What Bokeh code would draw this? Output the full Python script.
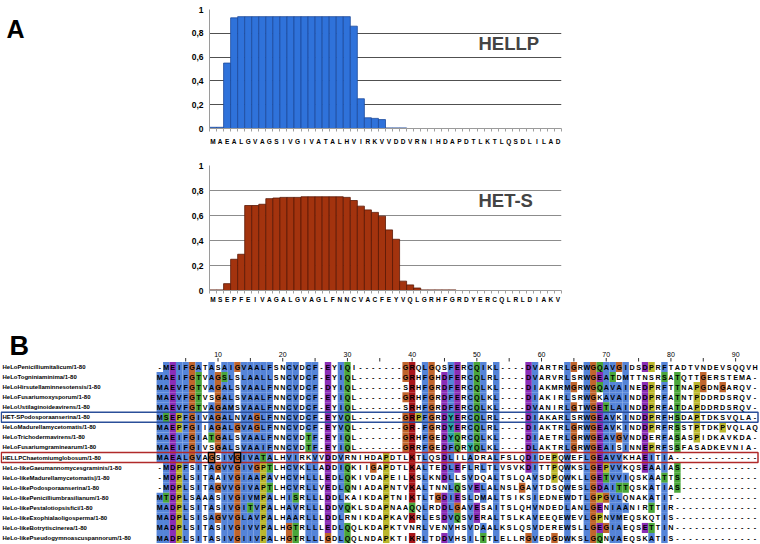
from collections import Counter

from bokeh.plotting import figure
from bokeh.layouts import column, row
from bokeh.models import Range1d, FixedTicker, Label
from bokeh.core.properties import value
from bokeh.embed import file_html
from bokeh.resources import INLINE

FONT = "Liberation Sans"
NARROW = "Liberation Sans Narrow, Liberation Sans"

# ---------------- Panel A data ----------------
HELLP_RESIDUES = list("MAEALGVAGSIVGIVATALHVIRKVVDDVRNIHDAPDTLKTLQSDLILAD")
HELLP_PROB = [0.01, 0.01, 0.55, 0.93, 0.94, 0.94, 0.94, 0.94, 0.94, 0.94,
              0.94, 0.94, 0.94, 0.94, 0.94, 0.94, 0.94, 0.94, 0.94, 0.94,
              0.86, 0.25, 0.09, 0.085, 0.075, 0.005, 0.005, 0.005, 0, 0,
              0, 0, 0, 0, 0, 0, 0, 0, 0, 0,
              0, 0, 0, 0, 0, 0, 0, 0, 0, 0]
HETS_RESIDUES = list("MSEPFEIVAGALGVAGLFNNCVACFEYVQLGRHFGRDYERCQLRLDIAKV")
HETS_PROB = [0.005, 0.005, 0.055, 0.25, 0.29, 0.68, 0.68, 0.69, 0.735, 0.74,
             0.745, 0.745, 0.745, 0.75, 0.75, 0.75, 0.75, 0.75, 0.75, 0.745,
             0.72, 0.675, 0.645, 0.625, 0.595, 0.485, 0.41, 0.075, 0.045, 0.02,
             0.005, 0.005, 0.005, 0.005, 0.005, 0, 0, 0, 0, 0,
             0, 0, 0, 0, 0, 0, 0, 0, 0, 0]
Y_TICKS = [0, 0.2, 0.4, 0.6, 0.8, 1.0]
Y_TICK_LABELS = ["0", "0,2", "0,4", "0,6", "0,8", "1"]

# ---------------- Panel B data ----------------
SEQ_NAMES = [
    "HeLoPenicilliumitalicum/1-80",
    "HeLoTogniniaminima/1-80",
    "HeLoHirsutellaminnesotensis/1-80",
    "HeLoFusariumoxysporum/1-80",
    "HeLoUstilaginoideavirens/1-80",
    "HET-SPodosporaanserina/1-80",
    "HeLoMadurellamycetomatis/1-80",
    "HeLoTrichodermavirens/1-80",
    "HeLoFusariumgraminearum/1-80",
    "HELLPChaetomiumglobosum/1-80",
    "HeLo-likeGaeumannomycesgraminis/1-80",
    "HeLo-likeMadurellamycetomatis|/1-80",
    "HeLo-likePodosporaanserina/1-80",
    "HeLo-likePenicilliumbrasilianum/1-80",
    "HeLo-likePestalotiopsisfici/1-80",
    "HeLo-likeExophialaoligosperma/1-80",
    "HeLo-likeBotrytiscinerea/1-80",
    "HeLo-likePseudogymnoascuspannorum/1-80",
]
SEQUENCES = [
    "-MEIFGATASAIGVAALFSNCVDCF-EYIQI-------GRQLGQSFERCQIKL----DVARTRLGRWGQAVGIDSDPRFTADTVNDEVSQQVH",
    "MAEIFGTVAGSLSLAALLSNCVDCF-EYIQL-------GRHFGHDFERCQLRL----DVARVRLSRWGEATDMTTNSRSATQTTGERSTEMA-",
    "MAEVFGTVAGALSVAALFNNCVDCF-DYIQL-------SRHFGRDFERCQLKL----DIAKMRMGRWGQAVAINEDPRFTTNAPGDNGARQV-",
    "MAEVFGTVSGALSVAALFNNCVDCF-EYIQL-------GRHFGRDFERCQLKL----DIAKIRLSRWGKAVAINDDPRFATNTPDDRDSRQV-",
    "MAEVFGTVAGAMSVAALFNNCVDCF-EYIQL-------SRHFGRDFERCQLKL----DVANIRLGTWGETLAINDDPRFATDAPDDRDSRQV-",
    "MSEPFGIVAGALNVAGLFNNCVDCF-EYVQL-------GRPFGRDYERCQLRL----DIAKARLSRWGEAVKINDDPRFHSDAPTDKSVQLA-",
    "MAEPFGIIAGALGVAGLFNNCVDCF-EYVQL-------GR-FGRDYERCQLRL----DIAKTRLGRWGEAVKINDDPRFRSSTPTDKPVQLAQ",
    "MAEIFGIATGALSVAALFNNCVDTF-EYIQL-------GRHFGEDYQRCQLKL----DIAETRLGRWGEAVGVNDDERFASASPIDKAVKDA-",
    "MAEIFGIVSGALSVAAIFNNCVDTF-EYIQL-------GRRFGEDFQRYQLKL----DLAKTRLGRWGEAISINNEPRFSSFASADKEVNIA-",
    "MAEALGVAGSIVGIVATALHVIRKVVDDVRNIHDAPDTLKTLQSDLILADRALFSLQDIDEPQWEFLGEAVVKHAEITIA-------------",
    "-MDPFSITAGVVGIVGPTLHCVKLLADDIQKIIGAPDTLKALTEDLEFLRLTLVSVKDITTPQWKSLGEPVVKQSEAAIAS------------",
    "-MDPLSITAAIVGIAAPAVHCVHLLLEDLQKIVDAPEILKSLKNDLLSVDQALTSLQAVSDPQWKLLGETVVIQSKAATTS------------",
    "-MDPLSITAGVVGIVAPTLHCVRLLVEDLQNIADAPNTVKALTNNLQSVELALNSLGAVTDSQWESLGDAITTQSKATIAS------------",
    "MTDPLSAAASIVGIVMPALHISRLLLDDLKAIKDAPTNIKTLTGDIESLDMALTSIKSIEDNEWDTLGPGVLQNAKATIT-------------",
    "MADPLSITASIVGITVPALHAVRLLLDDVQKLSDAPNAAQQLRDDLGAVESAITSLQHVNDEDLANLGENIAANIRTTIR-------------",
    "MADPLSISAGVVGLAVPALHAARLLLDDLRNIKDAPKAVKRLESDVQSVERALTSLKAVEEQEWEVLGPNVMEQSKQTIS-------------",
    "MADPLSITASIVGIVVPALHGTRLLLEDLQQLKDAPKTVNRLVENVHSVDAALKSLQSVDEREWSLLGEGIAEQSETTIN-------------",
    "MADPLSITASIVGIIVPALHGTRLLLGDLQQLNDAPKTIKRLTDDVHSILTTLELLRGVEDGDWKSLGQNVAEQSKATIS-------------",
]
RULER_TICKS = list(range(5, 95, 5))
RULER_NUMBERS = list(range(10, 100, 10))
HELLP_ROW = 9
HETS_ROW = 5
BOXED_COLUMNS = [9, 13]   # boxed glycines in the HELLP row

# ClustalX colours (as rendered in the figure)
COLOURS = {"blue": "#5584d8", "red": "#a8161a", "magenta": "#8a2db6",
           "green": "#4aa63a", "pink": "#e88080", "orange": "#c0652c",
           "yellow": "#bab62c", "cyan": "#2aa3a3"}

HYDRO = "WLVIMAFCYHP"


def consensus_flags(col):
    n = float(len(col))
    cnt = Counter(col)

    def pct(s):
        return 100.0 * sum(cnt[c] for c in s) / n

    f = set()
    if pct(HYDRO) > 60:
        f.add("%")
    if pct(HYDRO) > 80:
        f.add("#")
    if pct("ED") > 50:
        f.add("-")
    if pct("KR") > 60:
        f.add("+")
    if pct("G") > 50:
        f.add("g")
    if pct("N") > 50:
        f.add("n")
    if pct("QE") > 50:
        f.add("q")
    if pct("P") > 50:
        f.add("p")
    if pct("ST") > 50:
        f.add("t")
    for aa in "ACDEFGHIKLMNPQRSTVWY":
        if pct(aa) > 85:
            f.add(aa)
    return f


RULES = [
    ("AILMFWV", "blue", "%#ACFHILMVWYPp"),
    ("C", "blue", "%#AFHILMVWYSPp"),
    ("KR", "red", "+KRQ"),
    ("E", "magenta", "-DEqQ"),
    ("D", "magenta", "-DEnN"),
    ("N", "green", "nND"),
    ("Q", "green", "qQE+KR"),
    ("S", "green", "tST#"),
    ("T", "green", "tST%#"),
    ("C", "pink", "C"),
    ("G", "orange", None),
    ("P", "yellow", None),
    ("HY", "cyan", "%#ACFHILMVWYPp"),
]


def residue_colour(res, flags):
    for residues, colour, crit in RULES:
        if res in residues:
            if crit is None or any(c in flags for c in crit):
                return COLOURS[colour]
    return None


# ---------------- Panel A ----------------
def bar_panel(residues, probs, fill, edge, grid_color, name, width, height,
              left, top, bottom, standoff, name_y):
    n = len(residues)
    frame_w = 352
    p = figure(width=width, height=height, x_range=Range1d(0, n), y_range=Range1d(0, 1),
               output_backend="svg", toolbar_location=None,
               min_border_left=left, min_border_right=width - left - frame_w,
               min_border_top=top, min_border_bottom=bottom)
    p.outline_line_color = None
    xs = [i + 0.5 for i in range(n) if probs[i] > 0]
    tops = [probs[i] for i in range(n) if probs[i] > 0]
    p.vbar(x=xs, top=tops, bottom=0, width=1, fill_color=fill, line_color=edge,
           line_width=0.8)

    p.xgrid.visible = False
    p.ygrid.ticker = FixedTicker(ticks=Y_TICKS)
    p.ygrid.grid_line_color = grid_color
    p.ygrid.grid_line_width = 1

    yax = p.yaxis[0]
    yax.ticker = FixedTicker(ticks=Y_TICKS)
    yax.major_label_overrides = dict(zip(Y_TICKS, Y_TICK_LABELS))
    yax.axis_line_color = "#9a9a9a"
    yax.major_tick_out = 0
    yax.major_tick_in = 0
    yax.minor_tick_out = 0
    yax.minor_tick_in = 0
    yax.major_label_standoff = 6
    yax.major_label_text_font = FONT
    yax.major_label_text_font_style = "bold"
    yax.major_label_text_font_size = "8.5px"
    yax.major_label_text_color = "black"

    xax = p.xaxis[0]
    centers = [i + 0.5 for i in range(n)]
    xax.ticker = FixedTicker(ticks=centers, minor_ticks=list(range(n + 1)))
    xax.major_label_overrides = dict(zip(centers, residues))
    xax.axis_line_color = "#9a9a9a"
    xax.major_tick_out = 0
    xax.major_tick_in = 0
    xax.minor_tick_out = 3
    xax.minor_tick_in = 0
    xax.minor_tick_line_color = "#a0a0a0"
    xax.major_label_standoff = standoff
    xax.major_label_text_font = FONT
    xax.major_label_text_font_style = "bold"
    xax.major_label_text_font_size = "6.5px"
    xax.major_label_text_color = "black"

    p.add_layout(Label(x=38.2, y=name_y, text=name, text_font=FONT,
                       text_font_style="bold", text_font_size="18.5px",
                       text_baseline="middle", text_align="left"))
    return p


# panel letter "A" (its own small canvas, page pixel units)
pA = figure(width=40, height=150, x_range=Range1d(0, 40), y_range=Range1d(150, 0),
            x_axis_type=None, y_axis_type=None, output_backend="svg",
            toolbar_location=None, min_border=0)
pA.outline_line_color = None
pA.xgrid.visible = False
pA.ygrid.visible = False
pA.text(x=[6], y=[25], text=["A"], text_align="left", text_baseline="alphabetic",
        text_font=value(FONT), text_font_style="bold", text_font_size="25px",
        text_color="black")

p1 = bar_panel(HELLP_RESIDUES, HELLP_PROB, "#2f72da", "#1d4a9c", "#505050", "HELLP",
               width=720, height=150, left=169, top=9, bottom=22, standoff=6,
               name_y=0.714)
p2 = bar_panel(HETS_RESIDUES, HETS_PROB, "#a3330e", "#5a1805", "#8c8c8c", "HET-S",
               width=760, height=155, left=209, top=15, bottom=13, standoff=2,
               name_y=0.72)

# ---------------- Panel B ----------------
ROW_Y0, ROW_H = 366.5, 10.06      # page pixel layout of the alignment
COL_X0, COL_W = 159.3, 6.47
FIG_TOP, FIG_BOTTOM = 305.0, 544.0
FIG_LEFT, FIG_RIGHT = 0.0, 760.0

x_start = 1 + (FIG_LEFT - COL_X0) / COL_W
x_end = 1 + (FIG_RIGHT - COL_X0) / COL_W
y_bottom = (FIG_BOTTOM - ROW_Y0) / ROW_H
y_top = (FIG_TOP - ROW_Y0) / ROW_H


def px_x(page_x):
    return 1 + (page_x - COL_X0) / COL_W


def px_y(page_y):
    return (page_y - ROW_Y0) / ROW_H


p3 = figure(width=int(FIG_RIGHT - FIG_LEFT), height=int(FIG_BOTTOM - FIG_TOP),
            x_range=Range1d(x_start, x_end), y_range=Range1d(y_bottom, y_top),
            x_axis_type=None, y_axis_type=None,
            output_backend="svg", toolbar_location=None, min_border=0)
p3.outline_line_color = None
p3.xgrid.visible = False
p3.ygrid.visible = False

ncol = len(SEQUENCES[0])
col_flags = [consensus_flags([s[c] for s in SEQUENCES]) for c in range(ncol)]

cx, cy, cc = [], [], []
lx, ly, lt = [], [], []
for r, seq in enumerate(SEQUENCES):
    for c, res in enumerate(seq):
        k = c + 1
        lx.append(k)
        ly.append(r)
        lt.append(res)
        col = residue_colour(res, col_flags[c]) if res != "-" else None
        if col:
            cx.append(k)
            cy.append(r)
            cc.append(col)

p3.rect(x=cx, y=cy, width=1.0, height=1.0, fill_color=cc, line_color=None)
p3.text(x=lx, y=ly, text=lt, text_align="center", text_baseline="middle",
        text_font=value(FONT), text_font_style="bold", text_font_size="7.2px",
        text_color="black")

# sequence names
p3.text(x=[px_x(2)] * len(SEQ_NAMES), y=list(range(len(SEQ_NAMES))), text=SEQ_NAMES,
        text_align="left", text_baseline="middle", text_font=value(NARROW),
        text_font_style="bold", text_font_size="6px", text_color="black")

# ruler
p3.segment(x0=RULER_TICKS, y0=[px_y(357.5)] * len(RULER_TICKS), x1=RULER_TICKS,
           y1=[px_y(361)] * len(RULER_TICKS), line_color="#333333", line_width=1)
p3.text(x=RULER_NUMBERS, y=[px_y(353.5)] * len(RULER_NUMBERS),
        text=[str(v) for v in RULER_NUMBERS], text_align="center",
        text_baseline="middle", text_font=value(FONT), text_font_size="7px",
        text_color="black")

# highlighted rows and boxed residues
box_left = px_x(0.8)
box_right = px_x(757.5)
p3.quad(left=[box_left], right=[box_right], top=[HELLP_ROW - 0.5],
        bottom=[HELLP_ROW + 0.5], fill_color=None, line_color="#b02a2a", line_width=1.5)
p3.quad(left=[box_left], right=[box_right], top=[HETS_ROW - 0.5],
        bottom=[HETS_ROW + 0.5], fill_color=None, line_color="#2b4f99", line_width=1.5)
p3.rect(x=BOXED_COLUMNS, y=[HELLP_ROW] * len(BOXED_COLUMNS), width=1, height=1,
        fill_color=None, line_color="black", line_width=1.3)

# panel letter
p3.text(x=[px_x(9)], y=[px_y(345)], text=["B"], text_align="left",
        text_baseline="alphabetic", text_font=value(FONT), text_font_style="bold",
        text_font_size="27px", text_color="black")

layout = column(row(pA, p1, spacing=0), column(p2, spacing=0), column(p3, spacing=0),
                spacing=0)
open("out.html", "w").write(file_html(layout, INLINE))
